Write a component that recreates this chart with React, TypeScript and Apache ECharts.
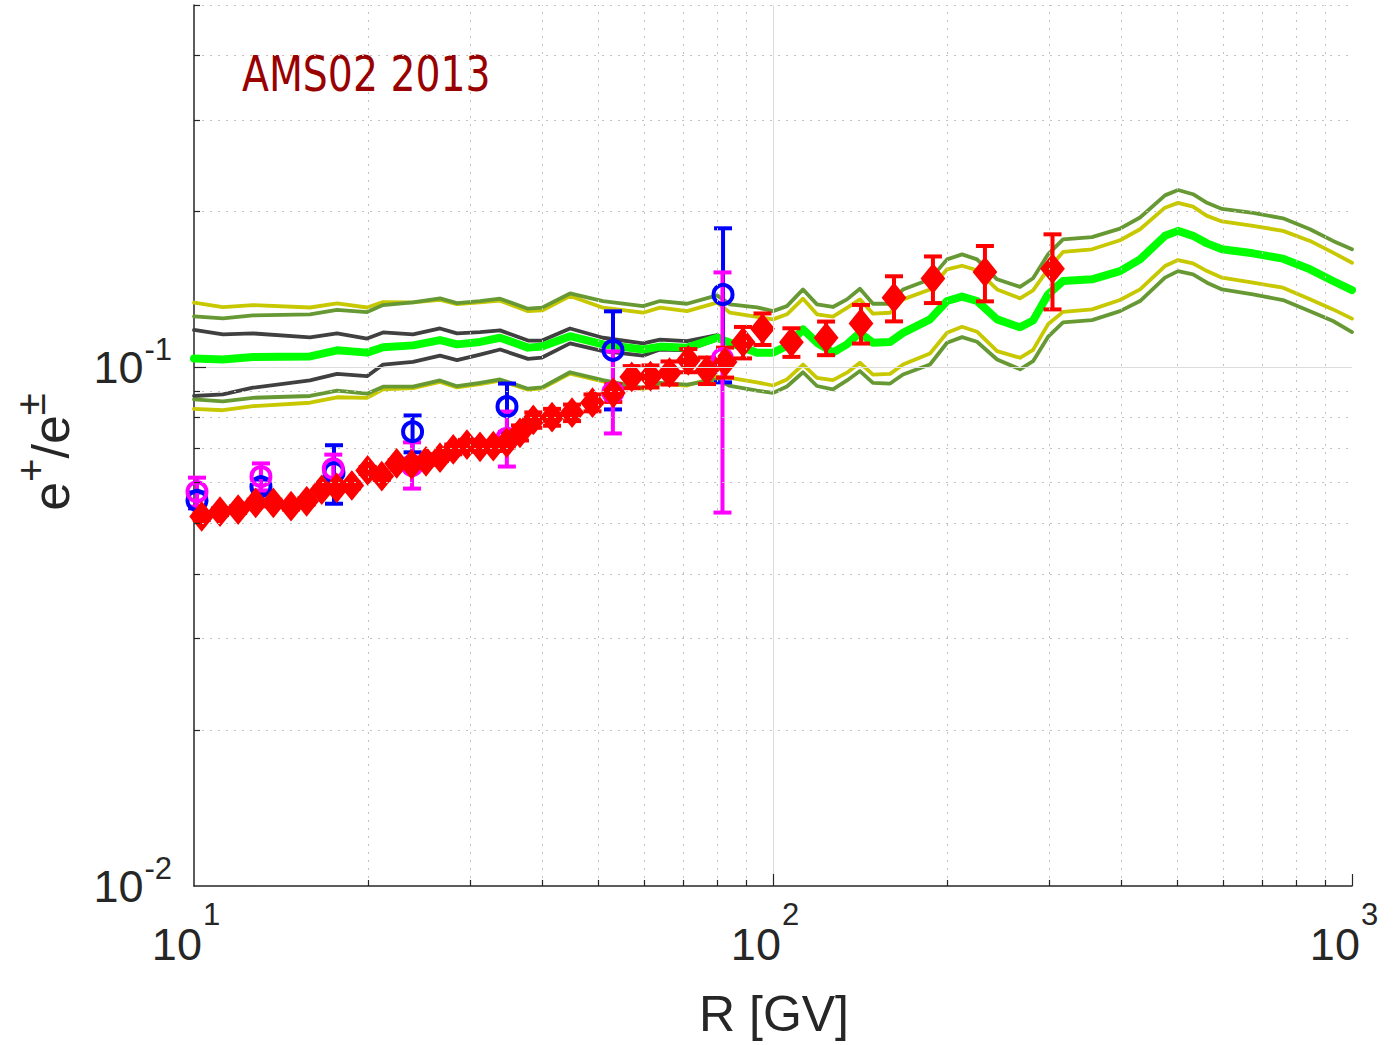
import React, { useEffect, useRef } from 'react';
import * as echarts from 'echarts';

// Rigidity nodes (GV) of the model curves
const modelR = [10.0, 11.22, 12.64, 15.86, 17.66, 19.9, 21.21, 23.89, 26.6, 28.46, 31.19, 33.78, 37.75, 39.91, 44.61, 50.86, 59.64, 63.8, 71.04, 80.06, 84.29, 93.84, 100.0, 105.7, 112.7, 119.1, 126.9, 134.2, 141.3, 148.8, 159.3, 167.7, 186.7, 199.8, 212.1, 225.1, 243.8, 267.1, 281.3, 298.5, 316.9, 355.6, 397.5, 430.5, 475.3, 500.6, 531.4, 561.8, 596.3, 674.5, 760.0, 846.2, 927.3, 1000];

// Best-fit positron fraction
const bestFit = [0.1041, 0.1036, 0.1047, 0.1050, 0.1079, 0.1068, 0.1094, 0.1103, 0.1129, 0.1108, 0.1120, 0.1141, 0.1092, 0.1097, 0.1149, 0.1108, 0.1083, 0.1097, 0.1092, 0.1141, 0.1116, 0.1068, 0.1068, 0.1100, 0.1184, 0.1116, 0.1069, 0.1108, 0.1166, 0.1116, 0.1120, 0.1166, 0.1238, 0.1343, 0.1370, 0.1343, 0.1238, 0.1195, 0.1232, 0.1383, 0.1468, 0.1479, 0.1534, 0.1616, 0.1794, 0.1834, 0.1794, 0.1735, 0.1690, 0.1660, 0.1621, 0.1546, 0.1468, 0.1410];

// Dark band
const darkHi = [0.1181, 0.1158, 0.1163, 0.1143, 0.1163, 0.1137, 0.1168, 0.1158, 0.1189, 0.1163, 0.1170, 0.1179, 0.1127, 0.1127, 0.1189, 0.1141, 0.1113, 0.1132, 0.1124, 0.1155, 0.1116, 0.1068, 0.1068, 0.1100, 0.1184, 0.1116, 0.1069, 0.1108, 0.1166, 0.1116, 0.1120, 0.1166, 0.1238, 0.1343, 0.1370, 0.1343, 0.1238, 0.1195, 0.1232, 0.1383, 0.1468, 0.1479, 0.1534, 0.1616, 0.1794, 0.1834, 0.1794, 0.1735, 0.1690, 0.1660, 0.1621, 0.1546, 0.1468, 0.1410];
const darkLo = [0.0881, 0.0887, 0.0914, 0.0944, 0.0972, 0.0962, 0.1013, 0.1025, 0.1054, 0.1033, 0.1059, 0.1083, 0.1039, 0.1045, 0.1113, 0.1075, 0.1054, 0.1083, 0.1079, 0.1132, 0.1116, 0.1068, 0.1068, 0.1100, 0.1184, 0.1116, 0.1069, 0.1108, 0.1166, 0.1116, 0.1120, 0.1166, 0.1238, 0.1343, 0.1370, 0.1343, 0.1238, 0.1195, 0.1232, 0.1383, 0.1468, 0.1479, 0.1534, 0.1616, 0.1794, 0.1834, 0.1794, 0.1735, 0.1690, 0.1660, 0.1621, 0.1546, 0.1468, 0.1410];

// Yellow band
const yellowHi = [0.1334, 0.1307, 0.1319, 0.1305, 0.1329, 0.1305, 0.1337, 0.1335, 0.1350, 0.1325, 0.1335, 0.1345, 0.1284, 0.1288, 0.1373, 0.1304, 0.1275, 0.1304, 0.1284, 0.1334, 0.1275, 0.1252, 0.1238, 0.1266, 0.1357, 0.1266, 0.1253, 0.1303, 0.1353, 0.1270, 0.1275, 0.1353, 0.1414, 0.1546, 0.1571, 0.1540, 0.1414, 0.1359, 0.1408, 0.1546, 0.1670, 0.1690, 0.1759, 0.1847, 0.2033, 0.2077, 0.2042, 0.1960, 0.1912, 0.1875, 0.1834, 0.1754, 0.1665, 0.1592];
const yellowLo = [0.0832, 0.0827, 0.0842, 0.0855, 0.0876, 0.0874, 0.0907, 0.0912, 0.0938, 0.0915, 0.0929, 0.0943, 0.0906, 0.0911, 0.0973, 0.0940, 0.0909, 0.0930, 0.0923, 0.0960, 0.0955, 0.0936, 0.0923, 0.0948, 0.1013, 0.0955, 0.0945, 0.0977, 0.1021, 0.0969, 0.0972, 0.1013, 0.1064, 0.1167, 0.1198, 0.1172, 0.1075, 0.1044, 0.1081, 0.1211, 0.1280, 0.1294, 0.1349, 0.1414, 0.1569, 0.1611, 0.1587, 0.1534, 0.1490, 0.1457, 0.1425, 0.1353, 0.1294, 0.1242];

// Olive band
const oliveHi = [0.1255, 0.1243, 0.1260, 0.1266, 0.1291, 0.1279, 0.1319, 0.1335, 0.1359, 0.1331, 0.1343, 0.1357, 0.1298, 0.1304, 0.1389, 0.1343, 0.1313, 0.1343, 0.1327, 0.1377, 0.1323, 0.1306, 0.1284, 0.1313, 0.1414, 0.1323, 0.1308, 0.1353, 0.1418, 0.1327, 0.1327, 0.1414, 0.1479, 0.1616, 0.1652, 0.1616, 0.1479, 0.1430, 0.1486, 0.1652, 0.1766, 0.1784, 0.1852, 0.1946, 0.2147, 0.2199, 0.2158, 0.2077, 0.2022, 0.1987, 0.1939, 0.1847, 0.1754, 0.1690];
const oliveLo = [0.0868, 0.0860, 0.0874, 0.0881, 0.0902, 0.0890, 0.0918, 0.0918, 0.0944, 0.0920, 0.0934, 0.0948, 0.0910, 0.0915, 0.0979, 0.0945, 0.0913, 0.0934, 0.0927, 0.0948, 0.0921, 0.0902, 0.0893, 0.0919, 0.0979, 0.0921, 0.0907, 0.0944, 0.0984, 0.0934, 0.0931, 0.0969, 0.1013, 0.1116, 0.1144, 0.1121, 0.1036, 0.0992, 0.1028, 0.1145, 0.1222, 0.1234, 0.1284, 0.1343, 0.1490, 0.1534, 0.1512, 0.1457, 0.1414, 0.1383, 0.1349, 0.1284, 0.1229, 0.1170];

// AMS-02 2013 positron fraction
const amsR = [10.31, 11.09, 11.92, 12.78, 13.71, 14.71, 15.65, 16.62, 17.64, 18.73, 19.95, 21.10, 22.39, 23.77, 25.16, 26.60, 28.04, 29.61, 31.19, 32.88, 34.68, 36.56, 38.55, 41.53, 44.97, 48.78, 52.99, 57.02, 61.43, 66.26, 71.40, 76.91, 82.64, 88.76, 95.91, 107.6, 123.5, 141.9, 161.8, 188.9, 232.3, 303.9];
const amsFrac = [0.0516, 0.0527, 0.0532, 0.0548, 0.0548, 0.0540, 0.0552, 0.0581, 0.0586, 0.0592, 0.0633, 0.0617, 0.0653, 0.0650, 0.0659, 0.0670, 0.0695, 0.0710, 0.0703, 0.0705, 0.0716, 0.0748, 0.0792, 0.0802, 0.0818, 0.0855, 0.0893, 0.0959, 0.0962, 0.0977, 0.1032, 0.0987, 0.1024, 0.1119, 0.1188, 0.1119, 0.1141, 0.1216, 0.1363, 0.1484, 0.1528, 0.1550];
const amsErr = [0.0008, 0.0008, 0.0008, 0.0008, 0.0008, 0.0008, 0.0008, 0.0008, 0.0008, 0.0008, 0.0010, 0.0010, 0.0010, 0.0010, 0.0010, 0.0010, 0.0015, 0.0015, 0.0015, 0.0015, 0.0015, 0.0025, 0.0027, 0.0030, 0.0030, 0.0032, 0.0035, 0.0047, 0.0047, 0.0050, 0.0053, 0.0058, 0.0068, 0.0078, 0.0083, 0.0071, 0.0085, 0.0104, 0.0136, 0.0153, 0.0187, 0.0256];

// Blue circles
const blueR = [10.12, 13.05, 17.45, 23.85, 34.72, 52.92, 81.98];
const blueFrac = [0.0554, 0.0589, 0.0627, 0.0752, 0.0841, 0.1079, 0.1383];
const blueLo = [0.0535, 0.0570, 0.0546, 0.0686, 0.0751, 0.0830, 0.0936];
const blueHi = [0.0574, 0.0608, 0.0708, 0.0808, 0.0931, 0.1283, 0.1855];

// Magenta circles
const magR = [10.12, 13.05, 17.40, 23.80, 34.70, 52.90, 81.80];
const magFrac = [0.0576, 0.0616, 0.0638, 0.0647, 0.0730, 0.0895, 0.1040];
const magLo = [0.0539, 0.0579, 0.0597, 0.0584, 0.0644, 0.0746, 0.0525];
const magHi = [0.0613, 0.0653, 0.0679, 0.0717, 0.0822, 0.1074, 0.1525];

// Axis ranges and tick values
const xMin = 10, xMax = 1000, yMin = 0.01, yMax = 0.5;
const xMinorTicks = [20, 30, 40, 50, 60, 70, 80, 90, 200, 300, 400, 500, 600, 700, 800, 900];
const yMinorTicks = [0.02, 0.03, 0.04, 0.05, 0.06, 0.07, 0.08, 0.09, 0.2, 0.3, 0.4, 0.5];
const xMajorTicks = [100, 1000];
const yMajorTicks = [0.1];

const GRID = { left: 194, right: 43, top: 5, bottom: 159 };
const W = 1395, H = 1045;

const zip = (xs: number[], ys: number[]) => xs.map((x, i) => [x, ys[i]]);

const AXIS_COLOR = '#262626';
const FONT = "'Liberation Sans', Arial, Helvetica, sans-serif";

function App() {
  const ref = useRef<HTMLDivElement>(null);

  useEffect(() => {
    if (!ref.current) return;
    const chart = echarts.init(ref.current, undefined, { renderer: 'svg' });

    const plotW = W - GRID.left - GRID.right;
    const plotH = H - GRID.top - GRID.bottom;
    const pxPerDecX = plotW / Math.log10(xMax / xMin);
    const pxPerDecY = plotH / Math.log10(yMax / yMin);
    const fx = (px: number) => Math.pow(10, px / pxPerDecX);
    const fy = (px: number) => Math.pow(10, px / pxPerDecY);

    const minorGrid = { color: '#c2c2c2', width: 1, type: [2, 6] as any };
    const majorGrid = { color: '#dcdcdc', width: 1, type: 'solid' as any };
    const tickStyle = { color: AXIS_COLOR, width: 1.2, type: 'solid' as any };

    const markData: any[] = [];
    xMinorTicks.forEach((v) => markData.push({ xAxis: v, lineStyle: minorGrid }));
    yMinorTicks.forEach((v) => markData.push({ yAxis: v, lineStyle: minorGrid }));
    markData.push({ xAxis: 100, lineStyle: majorGrid });
    markData.push({ yAxis: 0.1, lineStyle: majorGrid });
    xMinorTicks.forEach((v) => markData.push([{ coord: [v, yMin], lineStyle: tickStyle }, { coord: [v, yMin * fy(6)] }]));
    xMajorTicks.forEach((v) => markData.push([{ coord: [v, yMin], lineStyle: tickStyle }, { coord: [v, yMin * fy(12)] }]));
    yMinorTicks.forEach((v) => markData.push([{ coord: [xMin, v], lineStyle: tickStyle }, { coord: [xMin * fx(6), v] }]));
    yMajorTicks.forEach((v) => markData.push([{ coord: [xMin, v], lineStyle: tickStyle }, { coord: [xMin * fx(12), v] }]));

    const powLabel = (v: number) => {
      const l = Math.log10(v);
      const e = Math.round(l);
      return Math.abs(l - e) < 1e-6 ? `{b|10}{s|${e}}` : '';
    };
    const richFor = (raise: number) => ({
      b: { fontSize: 45, fontFamily: FONT, color: AXIS_COLOR, verticalAlign: 'bottom', lineHeight: 45 },
      s: { fontSize: 31, fontFamily: FONT, color: AXIS_COLOR, verticalAlign: 'bottom', lineHeight: 31, padding: [0, 0, raise, 1] },
    });

    const curve = (ys: number[], color: string, width: number) => ({
      type: 'line',
      data: zip(modelR, ys),
      symbol: 'none',
      showSymbol: false,
      silent: true,
      lineStyle: { color, width, cap: 'round', join: 'round' },
      z: 3,
    });

    const errorBars = (xs: number[], ys: number[], lo: number[], hi: number[], color: string, capHalf: number, width: number, detail: boolean) => ({
      type: 'custom',
      silent: true,
      z: 4,
      data: xs.map((x, i) => [x, ys[i], lo[i], hi[i]]),
      encode: { x: 0, y: 1 },
      renderItem: (_p: any, api: any) => {
        const x = api.value(0);
        const c = api.coord([x, api.value(1)]);
        const a = api.coord([x, api.value(2)]);
        const b = api.coord([x, api.value(3)]);
        const st = { stroke: color, lineWidth: width };
        const children: any[] = [
          { type: 'line', shape: { x1: a[0], y1: a[1], x2: b[0], y2: b[1] }, style: st },
          { type: 'line', shape: { x1: a[0] - capHalf, y1: a[1], x2: a[0] + capHalf, y2: a[1] }, style: st },
          { type: 'line', shape: { x1: b[0] - capHalf, y1: b[1], x2: b[0] + capHalf, y2: b[1] }, style: st },
        ];
        if (detail) {
          children.push({ type: 'line', shape: { x1: c[0] - 7, y1: c[1], x2: c[0] + 7, y2: c[1] }, style: { stroke: 'rgba(255,255,255,0.7)', lineWidth: 1 } });
          children.push({ type: 'circle', shape: { cx: c[0], cy: c[1], r: 2.5 }, style: { stroke: 'rgba(255,255,255,0.7)', fill: 'none', lineWidth: 1 } });
        }
        return { type: 'group', children };
      },
    });

    const circles = (xs: number[], ys: number[], color: string) => ({
      type: 'scatter',
      data: zip(xs, ys),
      symbol: 'circle',
      symbolSize: 19,
      silent: true,
      z: 4,
      itemStyle: { color: 'rgba(0,0,0,0)', borderColor: color, borderWidth: 4, opacity: 1 },
    });

    const option: any = {
      animation: false,
      backgroundColor: '#ffffff',
      grid: { ...GRID, containLabel: false },
      xAxis: {
        type: 'log',
        logBase: 10,
        min: xMin,
        max: xMax,
        axisLine: { show: true, onZero: false, lineStyle: { color: AXIS_COLOR, width: 1.5 } },
        axisTick: { show: false },
        splitLine: { show: false },
        minorTick: { show: false },
        axisLabel: { formatter: powLabel, rich: richFor(37), margin: 36, padding: [0, 16, 0, 0] },
      },
      yAxis: {
        type: 'log',
        logBase: 10,
        min: yMin,
        max: yMax,
        axisLine: { show: true, onZero: false, lineStyle: { color: AXIS_COLOR, width: 1.5 } },
        axisTick: { show: false },
        splitLine: { show: false },
        minorTick: { show: false },
        axisLabel: { formatter: powLabel, rich: richFor(25), margin: 22 },
      },
      graphic: [
        {
          type: 'text',
          x: 242,
          y: 73,
          scaleX: 0.875,
          style: {
            text: 'AMS02 2013',
            fill: '#990000',
            font: "50px 'Liberation Sans Narrow', 'DejaVu Sans Condensed', sans-serif",
            verticalAlign: 'middle',
            align: 'left',
          },
        },
        {
          type: 'text',
          x: 774,
          y: 1014,
          style: {
            text: 'R [GV]',
            fill: AXIS_COLOR,
            font: `50px ${FONT}`,
            align: 'center',
            verticalAlign: 'middle',
          },
        },
        {
          type: 'text',
          x: 51,
          y: 452,
          rotation: Math.PI / 2,
          style: {
            text: '{b|e}{s|+}{b|/e}{s|±}',
            align: 'center',
            verticalAlign: 'middle',
            rich: {
              b: { fontSize: 52, fontFamily: FONT, fill: AXIS_COLOR, verticalAlign: 'bottom', lineHeight: 52 },
              s: { fontSize: 40, fontFamily: FONT, fill: AXIS_COLOR, verticalAlign: 'bottom', lineHeight: 40, padding: [0, 0, 26, 0] },
            },
          },
        },
      ],
      series: [
        {
          type: 'line',
          data: [[xMin, yMin]],
          symbol: 'none',
          lineStyle: { width: 0, opacity: 0 },
          silent: true,
          z: 1,
          markLine: { silent: true, symbol: ['none', 'none'], label: { show: false }, emphasis: { disabled: true }, data: markData },
        },
        curve(darkHi, '#404040', 3.8),
        curve(darkLo, '#404040', 3.8),
        curve(yellowHi, '#c8c800', 3.8),
        curve(yellowLo, '#c8c800', 3.8),
        curve(oliveHi, '#669933', 3.8),
        curve(oliveLo, '#669933', 3.8),
        curve(bestFit, '#00ff00', 8),
        errorBars(blueR, blueFrac, blueLo, blueHi, '#0000ff', 9, 4, false),
        circles(blueR, blueFrac, '#0000ff'),
        errorBars(magR, magFrac, magLo, magHi, '#ff00ff', 9, 4, false),
        circles(magR, magFrac, '#ff00ff'),
        {
          type: 'scatter',
          data: zip(amsR, amsFrac),
          symbol: 'diamond',
          symbolSize: [21, 26],
          silent: true,
          z: 4,
          itemStyle: { color: '#ff0000', borderColor: '#ff0000', borderWidth: 3, opacity: 1 },
        },
        errorBars(amsR, amsFrac, amsFrac.map((v, i) => v - amsErr[i]), amsFrac.map((v, i) => v + amsErr[i]), '#ff0000', 9, 4, true),
      ],
    };

    chart.setOption(option);
    return () => chart.dispose();
  }, []);

  return <div ref={ref} style={{ position: 'absolute', left: 0, top: 0, width: W, height: H }} />;
}

export default App;
